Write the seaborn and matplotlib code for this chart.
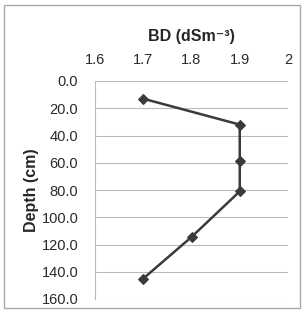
import matplotlib
matplotlib.use('Agg')
import matplotlib.pyplot as plt
import seaborn as sns
import pandas as pd

sns.set_style('white')
plt.rcParams['font.family'] = ['Liberation Sans', 'DejaVu Sans']

bd = [1.7, 1.9, 1.9, 1.9, 1.8, 1.7]
depth = [13.0, 32.0, 59.0, 81.0, 114.5, 145.0]
x_ticks = [1.6, 1.7, 1.8, 1.9, 2.0]
x_labels = ['1.6', '1.7', '1.8', '1.9', '2']
y_ticks = [0, 20, 40, 60, 80, 100, 120, 140, 160]

df = pd.DataFrame({'bd': bd, 'depth': depth})

fig = plt.figure(figsize=(3.05, 3.13), dpi=100)
ax = fig.add_axes([95 / 305, 1 - 299 / 313, 193 / 305, 218 / 313])

sns.lineplot(data=df, x='bd', y='depth', sort=False, estimator=None, ax=ax,
             color='#3a3a3a', linewidth=1.8, marker='D', markersize=5.5,
             markeredgecolor='#3a3a3a')

ax.set_xlim(1.6, 2.0)
ax.set_ylim(160, 0)
ax.set_xticks(x_ticks)
ax.set_xticklabels(x_labels)
ax.set_yticks(y_ticks)
ax.set_yticklabels([f'{v:.1f}' for v in y_ticks])
ax.xaxis.tick_top()
ax.xaxis.set_label_position('top')
ax.tick_params(axis='both', length=0, labelsize=10.5, colors='#2a2a2a')
ax.tick_params(axis='x', pad=10)
ax.tick_params(axis='y', pad=12)
ax.yaxis.grid(True, color='#bbbbbb', linewidth=0.8)
ax.xaxis.grid(False)
for s in ['top', 'right', 'bottom']:
    ax.spines[s].set_visible(False)
ax.spines['left'].set_color('#bbbbbb')
ax.spines['left'].set_linewidth(0.8)

ax.set_xlabel('BD (dSm\u207b\u00b3)', fontsize=11.5, fontweight='bold', labelpad=9)
ax.set_ylabel('Depth (cm)', fontsize=11.5, fontweight='bold', labelpad=2)

fig.patches.append(plt.Rectangle((4 / 305, 5 / 313), 296 / 305, 303 / 313,
                                 transform=fig.transFigure, fill=False,
                                 edgecolor='#aaaaaa', linewidth=1))

fig.savefig('out.png', dpi=100)
